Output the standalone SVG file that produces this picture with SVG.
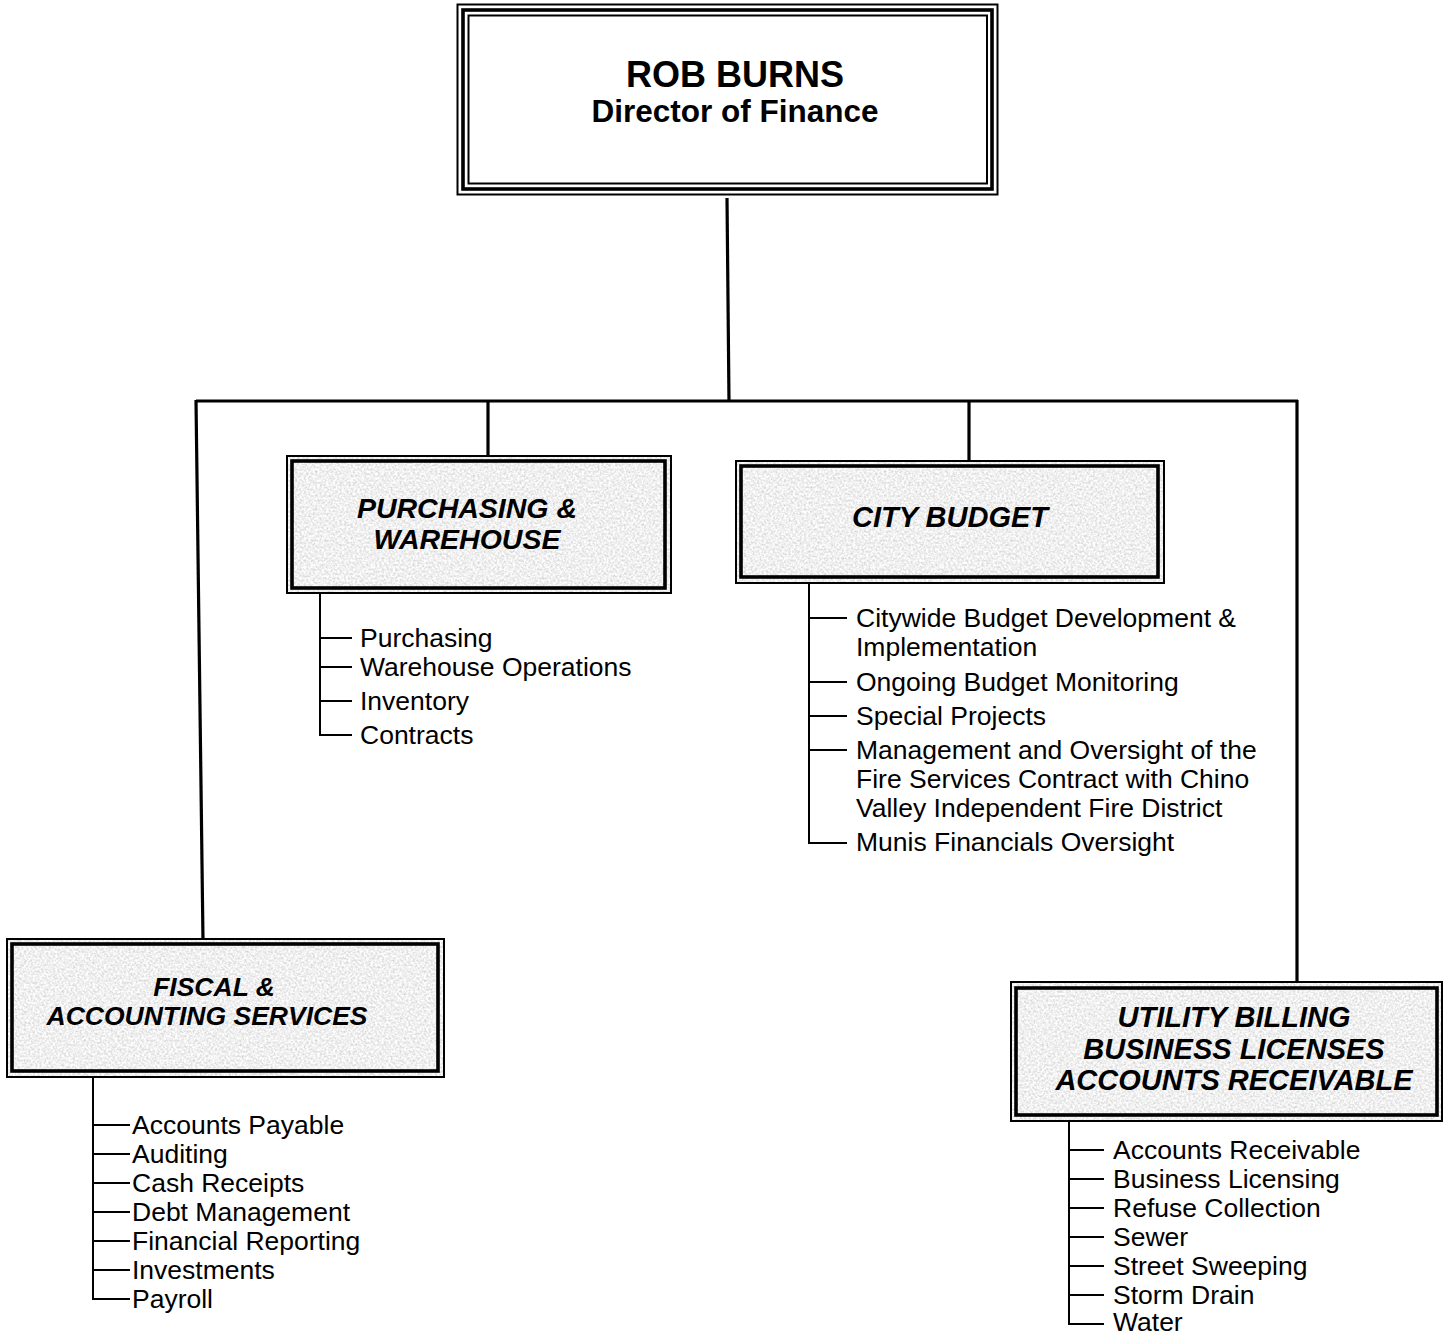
<svg xmlns="http://www.w3.org/2000/svg" width="1445" height="1333" viewBox="0 0 1445 1333">
<style>
.bg{fill:#ffffff}
.thin{fill:none;stroke:#000;stroke-width:2}
.thick{fill:none;stroke:#000;stroke-width:3.6}
.gran{filter:url(#granite)}
.title{font-family:"Liberation Sans",Arial,sans-serif;font-weight:bold;fill:#000;text-anchor:middle}
.head{font-family:"Liberation Sans",Arial,sans-serif;font-weight:bold;font-style:italic;fill:#000;text-anchor:middle}
.item{font-family:"Liberation Sans",Arial,sans-serif;font-size:26.5px;fill:#000}
.conn{fill:none;stroke:#000;stroke-width:3.2}
.list{fill:none;stroke:#000;stroke-width:2}
</style>
<defs>
<filter id="granite" x="0" y="0" width="100%" height="100%" color-interpolation-filters="sRGB">
<feTurbulence type="fractalNoise" baseFrequency="0.45" numOctaves="3" seed="7" result="n"/>
<feColorMatrix in="n" type="matrix" values="0.3 0 0 0 0.79  0.3 0 0 0 0.79  0.3 0 0 0 0.79  0 0 0 0 1" result="g"/>
<feComposite in="g" in2="SourceGraphic" operator="in"/>
</filter>
</defs>
<rect class="bg" x="0" y="0" width="1445" height="1333"/>

<g id="connectors">
<path class="conn" d="M727 198 L729 401"/>
<path class="conn" d="M196 401 H1298"/>
<path class="conn" d="M196 400 L203 940"/>
<path class="conn" d="M1297 400 V983"/>
<path class="conn" d="M488 400 V457"/>
<path class="conn" d="M969 400 V461"/>
<path class="list" d="M320 593 V735 H352 M320 638 H352 M320 667 H352 M320 701 H352"/>
<path class="list" d="M809 583 V843 H847 M809 618 H847 M809 682 H847 M809 716 H847 M809 750 H847"/>
<path class="list" d="M93 1077 V1299 H130 M93 1125 H130 M93 1154 H130 M93 1183 H130 M93 1212 H130 M93 1241 H130 M93 1270 H130"/>
<path class="list" d="M1069 1121 V1324 H1104 M1069 1150 H1104 M1069 1179 H1104 M1069 1208 H1104 M1069 1237 H1104 M1069 1266 H1104 M1069 1295 H1104"/>
</g>

<g id="director">
<rect x="457.5" y="4.5" width="540" height="190" fill="#fff" class="thin"/>
<rect x="463" y="10" width="529" height="179" class="thick"/>
<rect x="468.5" y="15.5" width="518.5" height="168" class="thin"/>
<text class="title" x="735" y="87" font-size="36">ROB BURNS</text>
<text class="title" x="735" y="122" font-size="31.5">Director of Finance</text>
</g>

<g id="purchasing">
<rect class="gran" x="287" y="456" width="384" height="137" fill="#fff"/>
<rect x="287" y="456" width="384" height="137" class="thin"/>
<rect x="292" y="461" width="373" height="127" class="thick"/>
<text class="head" font-size="28.5" x="467" y="518">PURCHASING &amp;</text>
<text class="head" font-size="28.5" x="467" y="549">WAREHOUSE</text>
<text class="item" x="360" y="647">Purchasing</text>
<text class="item" x="360" y="676">Warehouse Operations</text>
<text class="item" x="360" y="710">Inventory</text>
<text class="item" x="360" y="744">Contracts</text>
</g>

<g id="budget">
<rect class="gran" x="736" y="461" width="428" height="122" fill="#fff"/>
<rect x="736" y="461" width="428" height="122" class="thin"/>
<rect x="741" y="466" width="417" height="111" class="thick"/>
<text class="head" font-size="29" x="950" y="527">CITY BUDGET</text>
<text class="item" x="856" y="627">Citywide Budget Development &amp;</text>
<text class="item" x="856" y="656">Implementation</text>
<text class="item" x="856" y="691">Ongoing Budget Monitoring</text>
<text class="item" x="856" y="725">Special Projects</text>
<text class="item" x="856" y="759">Management and Oversight of the</text>
<text class="item" x="856" y="788">Fire Services Contract with Chino</text>
<text class="item" x="856" y="817">Valley Independent Fire District</text>
<text class="item" x="856" y="851">Munis Financials Oversight</text>
</g>

<g id="fiscal">
<rect class="gran" x="7" y="939" width="437" height="138" fill="#fff"/>
<rect x="7" y="939" width="437" height="138" class="thin"/>
<rect x="12" y="944" width="426" height="127" class="thick"/>
<text class="head" font-size="26.5" x="214" y="996">FISCAL &amp;</text>
<text class="head" font-size="26.5" x="207" y="1025">ACCOUNTING SERVICES</text>
<text class="item" x="132" y="1134">Accounts Payable</text>
<text class="item" x="132" y="1163">Auditing</text>
<text class="item" x="132" y="1192">Cash Receipts</text>
<text class="item" x="132" y="1221">Debt Management</text>
<text class="item" x="132" y="1250">Financial Reporting</text>
<text class="item" x="132" y="1279">Investments</text>
<text class="item" x="132" y="1308">Payroll</text>
</g>

<g id="utility">
<rect class="gran" x="1011" y="982" width="431" height="139" fill="#fff"/>
<rect x="1011" y="982" width="431" height="139" class="thin"/>
<rect x="1016" y="988" width="421" height="127" class="thick"/>
<text class="head" font-size="29" x="1234" y="1027">UTILITY BILLING</text>
<text class="head" font-size="29" x="1234" y="1059">BUSINESS LICENSES</text>
<text class="head" font-size="29" x="1234" y="1090">ACCOUNTS RECEIVABLE</text>
<text class="item" x="1113" y="1159">Accounts Receivable</text>
<text class="item" x="1113" y="1188">Business Licensing</text>
<text class="item" x="1113" y="1217">Refuse Collection</text>
<text class="item" x="1113" y="1246">Sewer</text>
<text class="item" x="1113" y="1275">Street Sweeping</text>
<text class="item" x="1113" y="1304">Storm Drain</text>
<text class="item" x="1113" y="1331">Water</text>
</g>
</svg>
